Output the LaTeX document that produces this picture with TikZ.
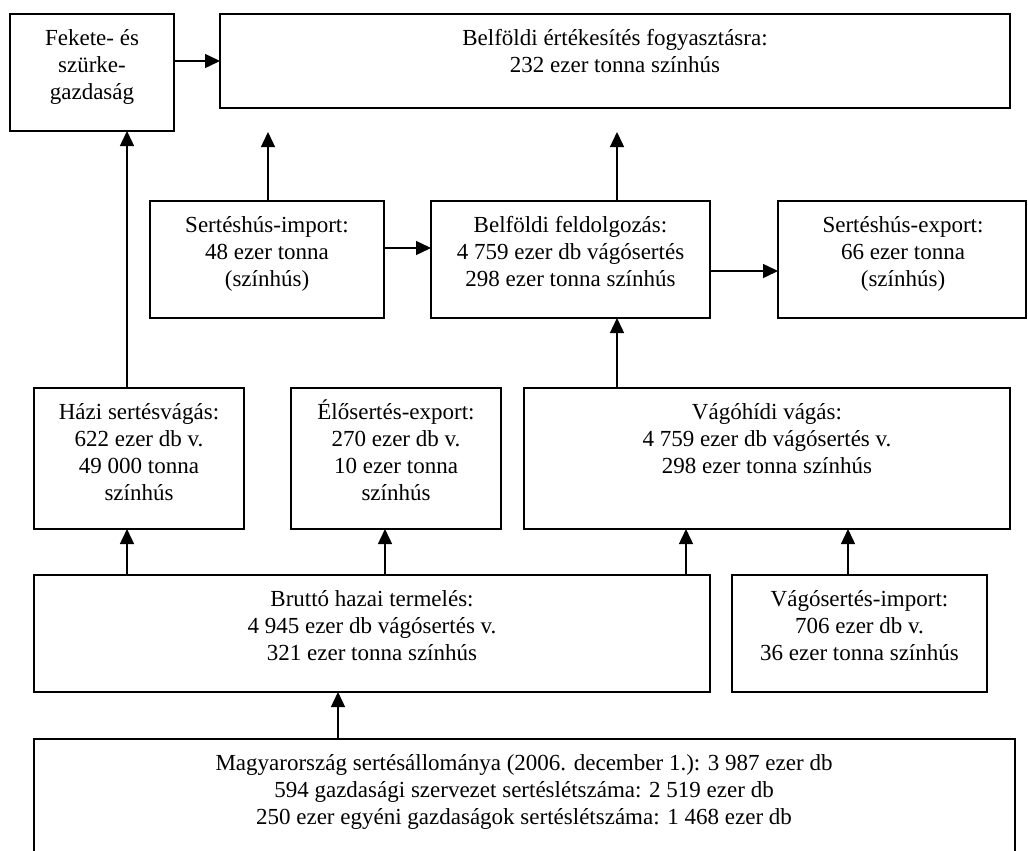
\documentclass[tikz,border=0pt]{standalone}
\usepackage{fontspec}
\setmainfont{Liberation Serif}
\usetikzlibrary{arrows.meta}
\tikzset{
  box/.style={draw=black, line width=1.5pt, rectangle, inner sep=0pt, outer sep=0pt},
  txt/.style={anchor=north, align=center, inner sep=0pt, font=\fontsize{23}{27}\selectfont},
  arr/.style={line width=1.4pt, -{Triangle[length=15pt,width=14pt]}}
}
\begin{document}
\begin{tikzpicture}[x=1pt,y=-1pt]
\useasboundingbox (0,0) rectangle (1028,851);
\clip (0,0) rectangle (1028,851);
% boxes
\node[box, minimum width=164pt, minimum height=117pt] (fek) at (92,72.5) {};
\node[box, minimum width=790pt, minimum height=94pt] (bel) at (615,61) {};
\node[box, minimum width=234pt, minimum height=117pt] (simp) at (267,259.5) {};
\node[box, minimum width=279pt, minimum height=117pt] (feld) at (570.5,259.5) {};
\node[box, minimum width=248pt, minimum height=117pt] (sexp) at (902,259.5) {};
\node[box, minimum width=210pt, minimum height=141pt] (hazi) at (139,458.5) {};
\node[box, minimum width=210pt, minimum height=141pt] (elo) at (396,458.5) {};
\node[box, minimum width=486pt, minimum height=141pt] (vago) at (767,458.5) {};
\node[box, minimum width=676pt, minimum height=117pt] (brutto) at (372,633.5) {};
\node[box, minimum width=255pt, minimum height=117pt] (vimp) at (859.5,633.5) {};
\node[box, minimum width=981pt, minimum height=140pt] (magy) at (524.5,809) {};
% texts
\node[txt] (fekt) at (92,26) {\strut Fekete- és\\szürke-\\gazdaság};
\node[txt] (belt) at (615,26) {\strut Belföldi értékesítés fogyasztásra:\\232 ezer tonna színhús};
\node[txt] (simpt) at (267,213) {\strut Sertéshús-import:\\48 ezer tonna\\(színhús)};
\node[txt] (feldt) at (570.5,213) {\strut Belföldi feldolgozás:\\4 759 ezer db vágósertés\\298 ezer tonna színhús};
\node[txt] (sexpt) at (903,213) {\strut Sertéshús-export:\\66 ezer tonna\\(színhús)};
\node[txt] (hazit) at (139,400) {\strut Házi sertésvágás:\\622 ezer db v.\\49 000 tonna\\színhús};
\node[txt] (elot) at (396,400) {\strut Élősertés-export:\\270 ezer db v.\\10 ezer tonna\\színhús};
\node[txt] (vagot) at (767,400) {\strut Vágóhídi vágás:\\4 759 ezer db vágósertés v.\\298 ezer tonna színhús};
\node[txt] (bruttot) at (372,587) {\strut Bruttó hazai termelés:\\4 945 ezer db vágósertés v.\\321 ezer tonna színhús};
\node[txt] (vimpt) at (859.5,587) {\strut Vágósertés-import:\\706 ezer db v.\\36 ezer tonna színhús};
\node[txt] (magyt) at (524,751) {\strut Magyarország sertésállománya (2006. december 1.): 3 987 ezer db\\594 gazdasági szervezet sertéslétszáma: 2 519 ezer db\\250 ezer egyéni gazdaságok sertéslétszáma: 1 468 ezer db};
% free ends
\coordinate (b1) at (268,132);
\coordinate (b2) at (617,132);
% connectors
\draw[arr] (fek.east |- 0,61) -- (bel.west |- 0,61);
\draw[arr] (hazi.north -| 127,0) -- (fek.south -| 127,0);
\draw[arr] (simp.north -| b1) -- (b1);
\draw[arr] (feld.north -| b2) -- (b2);
\draw[arr] (simp.east |- 0,248) -- (feld.west |- 0,248);
\draw[arr] (feld.east |- 0,271) -- (sexp.west |- 0,271);
\draw[arr] (vago.north -| 617,0) -- (feld.south -| 617,0);
\draw[arr] (brutto.north -| 127,0) -- (hazi.south -| 127,0);
\draw[arr] (brutto.north -| 385,0) -- (elo.south -| 385,0);
\draw[arr] (brutto.north -| 686,0) -- (vago.south -| 686,0);
\draw[arr] (vimp.north -| 848,0) -- (vago.south -| 848,0);
\draw[arr] (magy.north -| 338,0) -- (brutto.south -| 338,0);
\end{tikzpicture}
\end{document}
